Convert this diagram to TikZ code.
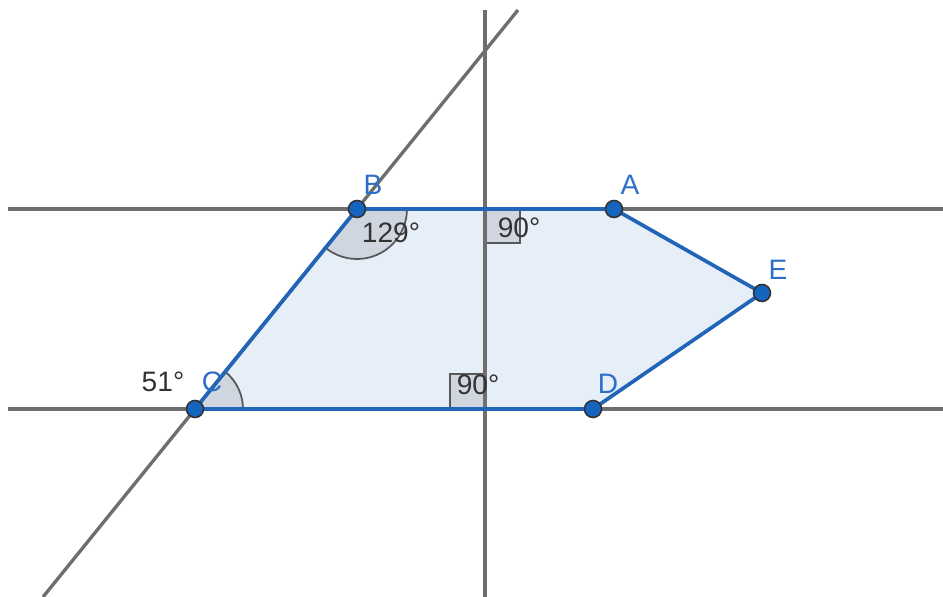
\documentclass[tikz,border=0pt]{standalone}
\usepackage{fontspec}
\setmainfont{Liberation Sans}
\usetikzlibrary{positioning}

\definecolor{polyblue}{RGB}{33,101,185}
\definecolor{ptblue}{RGB}{21,101,192}
\definecolor{lblblue}{RGB}{45,110,200}
\definecolor{polyfill}{RGB}{230,238,248}
\definecolor{linegray}{RGB}{110,110,110}
\definecolor{anglefill}{RGB}{208,214,224}

\begin{document}
\begin{tikzpicture}[
    x=0.02cm, y=-0.02cm,
    gline/.style={draw=linegray, line width=1.9pt},
    edge/.style={draw=polyblue, line width=2.1pt, line join=round},
    angmark/.style={fill=anglefill, draw=linegray!80!black, line width=1pt},
    pt/.style={circle, fill=ptblue, draw=black!80, line width=0.9pt, inner sep=0pt, minimum size=0.34cm},
    ptlabel/.style={text=lblblue, font=\fontsize{16}{19}\selectfont, inner sep=0pt},
    anglabel/.style={text=black!80, font=\fontsize{16}{19}\selectfont, inner sep=0pt}
  ]
    \useasboundingbox (0,0) rectangle (943,597);
    % vertices
    \coordinate (A) at (614,209);
    \coordinate (B) at (357,209);
    \coordinate (C) at (195,409);
    \coordinate (D) at (593,409);
    \coordinate (E) at (762,293);
    % free ends of the lines
    \coordinate (topL) at (8,209);
    \coordinate (topR) at (943,209);
    \coordinate (botL) at (8,409);
    \coordinate (botR) at (943,409);
    \coordinate (vTop) at (485,10);
    \coordinate (vBot) at (485,597);
    \coordinate (dTop) at (518,10);
    \coordinate (dBot) at (43,597);
    \coordinate (P) at (485,209);
    \coordinate (Q) at (485,409);

    % polygon fill
    \fill[polyfill] (A) -- (B) -- (C) -- (D) -- (E) -- cycle;

    % angle marks
    \filldraw[angmark] (B) -- ++(0:50) arc (0:129:50) -- cycle;
    \fill[anglefill] (C) -- ++(0:48) arc (0:-51:48) -- cycle;
    \draw[linegray!80!black, line width=1pt] (C) ++(48,0) arc (0:-51:48);
    \filldraw[angmark] (P) rectangle ++(35,34);
    \filldraw[angmark] (Q) rectangle ++(-35,-35);

    % lines
    \draw[gline] (topL) -- (topR);
    \draw[gline] (botL) -- (botR);
    \draw[gline] (vTop) -- (vBot);
    \draw[gline] (dTop) -- (dBot);

    % polygon edges
    \draw[edge] (A) -- (B) -- (C) -- (D) -- (E) -- cycle;

    % points
    \foreach \p in {A,B,C,D,E}
      \node[pt] (pt\p) at (\p) {};

    % labels
    \node[ptlabel] (lA) at (630,185) {A};
    \node[ptlabel] (lB) at (373,185) {B};
    \node[ptlabel] (lC) at (212,382) {C};
    \node[ptlabel] (lD) at (608,384) {D};
    \node[ptlabel] (lE) at (778,270) {E};
    \node[anglabel] (aB) at (391,233) {129°};
    \node[anglabel] (aP) at (519,228) {90°};
    \node[anglabel] (aQ) at (478,385) {90°};
    \node[anglabel] (aC) at (163,382) {51°};
  \end{tikzpicture}
\end{document}
